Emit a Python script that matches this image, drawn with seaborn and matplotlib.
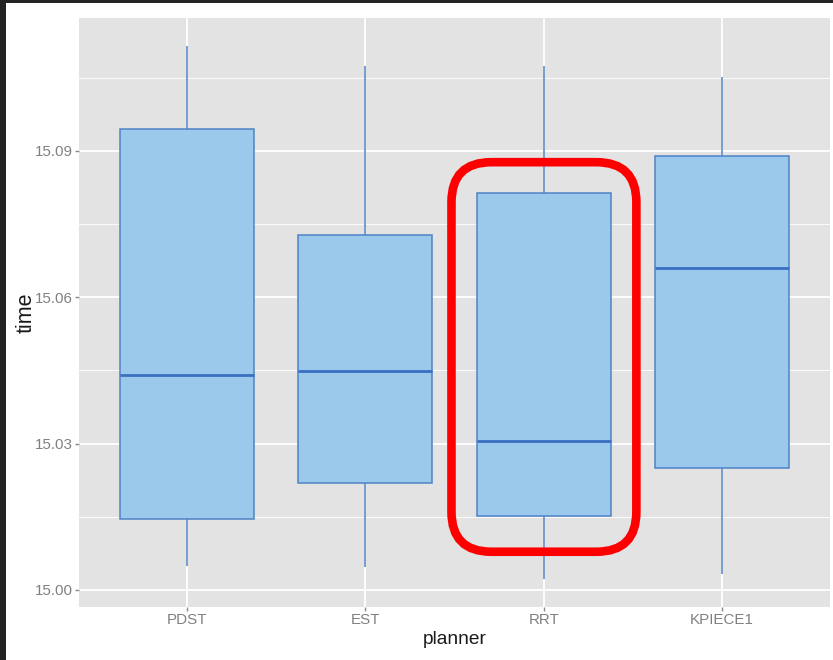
import numpy as np
import pandas as pd
import matplotlib
matplotlib.use("Agg")
import matplotlib.pyplot as plt
from matplotlib.patches import FancyBboxPatch, Rectangle
from matplotlib.ticker import MultipleLocator
import seaborn as sns

# Planner run times: lower whisker, Q1, median, Q3, upper whisker
planners = ["PDST", "EST", "RRT", "KPIECE1"]
pdst_time = [15.0049, 15.0145, 15.0441, 15.0944, 15.1114]
est_time = [15.0047, 15.0220, 15.0449, 15.0728, 15.1073]
rrt_time = [15.0022, 15.0152, 15.0306, 15.0813, 15.1073]
kpiece1_time = [15.0033, 15.0249, 15.0659, 15.0889, 15.1052]
y_ticks = [15.00, 15.03, 15.06, 15.09]
highlighted = "RRT"

df = pd.DataFrame({
    "planner": np.repeat(planners, 5),
    "time": pdst_time + est_time + rrt_time + kpiece1_time,
})

plt.rcParams["font.family"] = ["Liberation Sans", "DejaVu Sans"]

fig = plt.figure(figsize=(8.33, 6.60), dpi=100)
ax = fig.add_axes([79 / 833, 53 / 660, (830 - 79) / 833, (607 - 18) / 660])

ax.set_facecolor("#e3e3e3")
for s in ax.spines.values():
    s.set_visible(False)

sns.boxplot(
    data=df, x="planner", y="time", order=planners, ax=ax,
    width=0.75, whis=np.inf, color="#9ac9eb", linecolor="#4f83c4",
    linewidth=1.1, saturation=1, showcaps=False,
    medianprops=dict(color="#3b6fc0", lw=2.0),
)

# ggplot-style grid
ax.yaxis.set_minor_locator(MultipleLocator(0.015))
ax.grid(which="major", axis="both", color="white", lw=1.3)
ax.grid(which="minor", axis="y", color="white", lw=0.6)
ax.xaxis.grid(True, which="major", color="white", lw=1.3)
ax.set_axisbelow(True)

ax.set_xlim(-0.606, 3.606)
ax.set_ylim(14.9965, 15.1172)
ax.set_yticks(y_ticks)
ax.set_yticklabels([f"{v:.2f}" for v in y_ticks])
ax.tick_params(axis="both", which="major", length=3, width=1, color="#8a8a8a",
               labelcolor="#808080", labelsize=10.9, pad=1.5)
ax.tick_params(axis="y", which="minor", length=0)
ax.set_xlabel("planner", fontsize=13.8, color="#1a1a1a", labelpad=3)
ax.set_ylabel("time", fontsize=15.5, color="#1a1a1a", labelpad=-1)

# Rounded red outline around the highlighted planner's box
i = planners.index(highlighted)
stats = dict(zip(planners, [pdst_time, est_time, rrt_time, kpiece1_time]))[highlighted]
to_in = fig.dpi_scale_trans.inverted()
(x0, y0) = to_in.transform(ax.transData.transform((i - 0.517, stats[1])))
(x1, y1) = to_in.transform(ax.transData.transform((i + 0.52, stats[3])))
y0 -= 0.36
y1 += 0.31
hl = FancyBboxPatch((x0, y0), x1 - x0, y1 - y0,
                    boxstyle="round,pad=0,rounding_size=0.4",
                    transform=fig.dpi_scale_trans, fc="none", ec="#ff0000",
                    lw=6.2, clip_on=False, zorder=10)
fig.add_artist(hl)

# Dark frame along top and left edges
fig.add_artist(Rectangle((0, 0), 6 / 833, 1, transform=fig.transFigure,
                         color="#232323", lw=0))
fig.add_artist(Rectangle((0, 1 - 3 / 660), 1, 3 / 660, transform=fig.transFigure,
                         color="#232323", lw=0))

fig.savefig("out.png", dpi=100)
